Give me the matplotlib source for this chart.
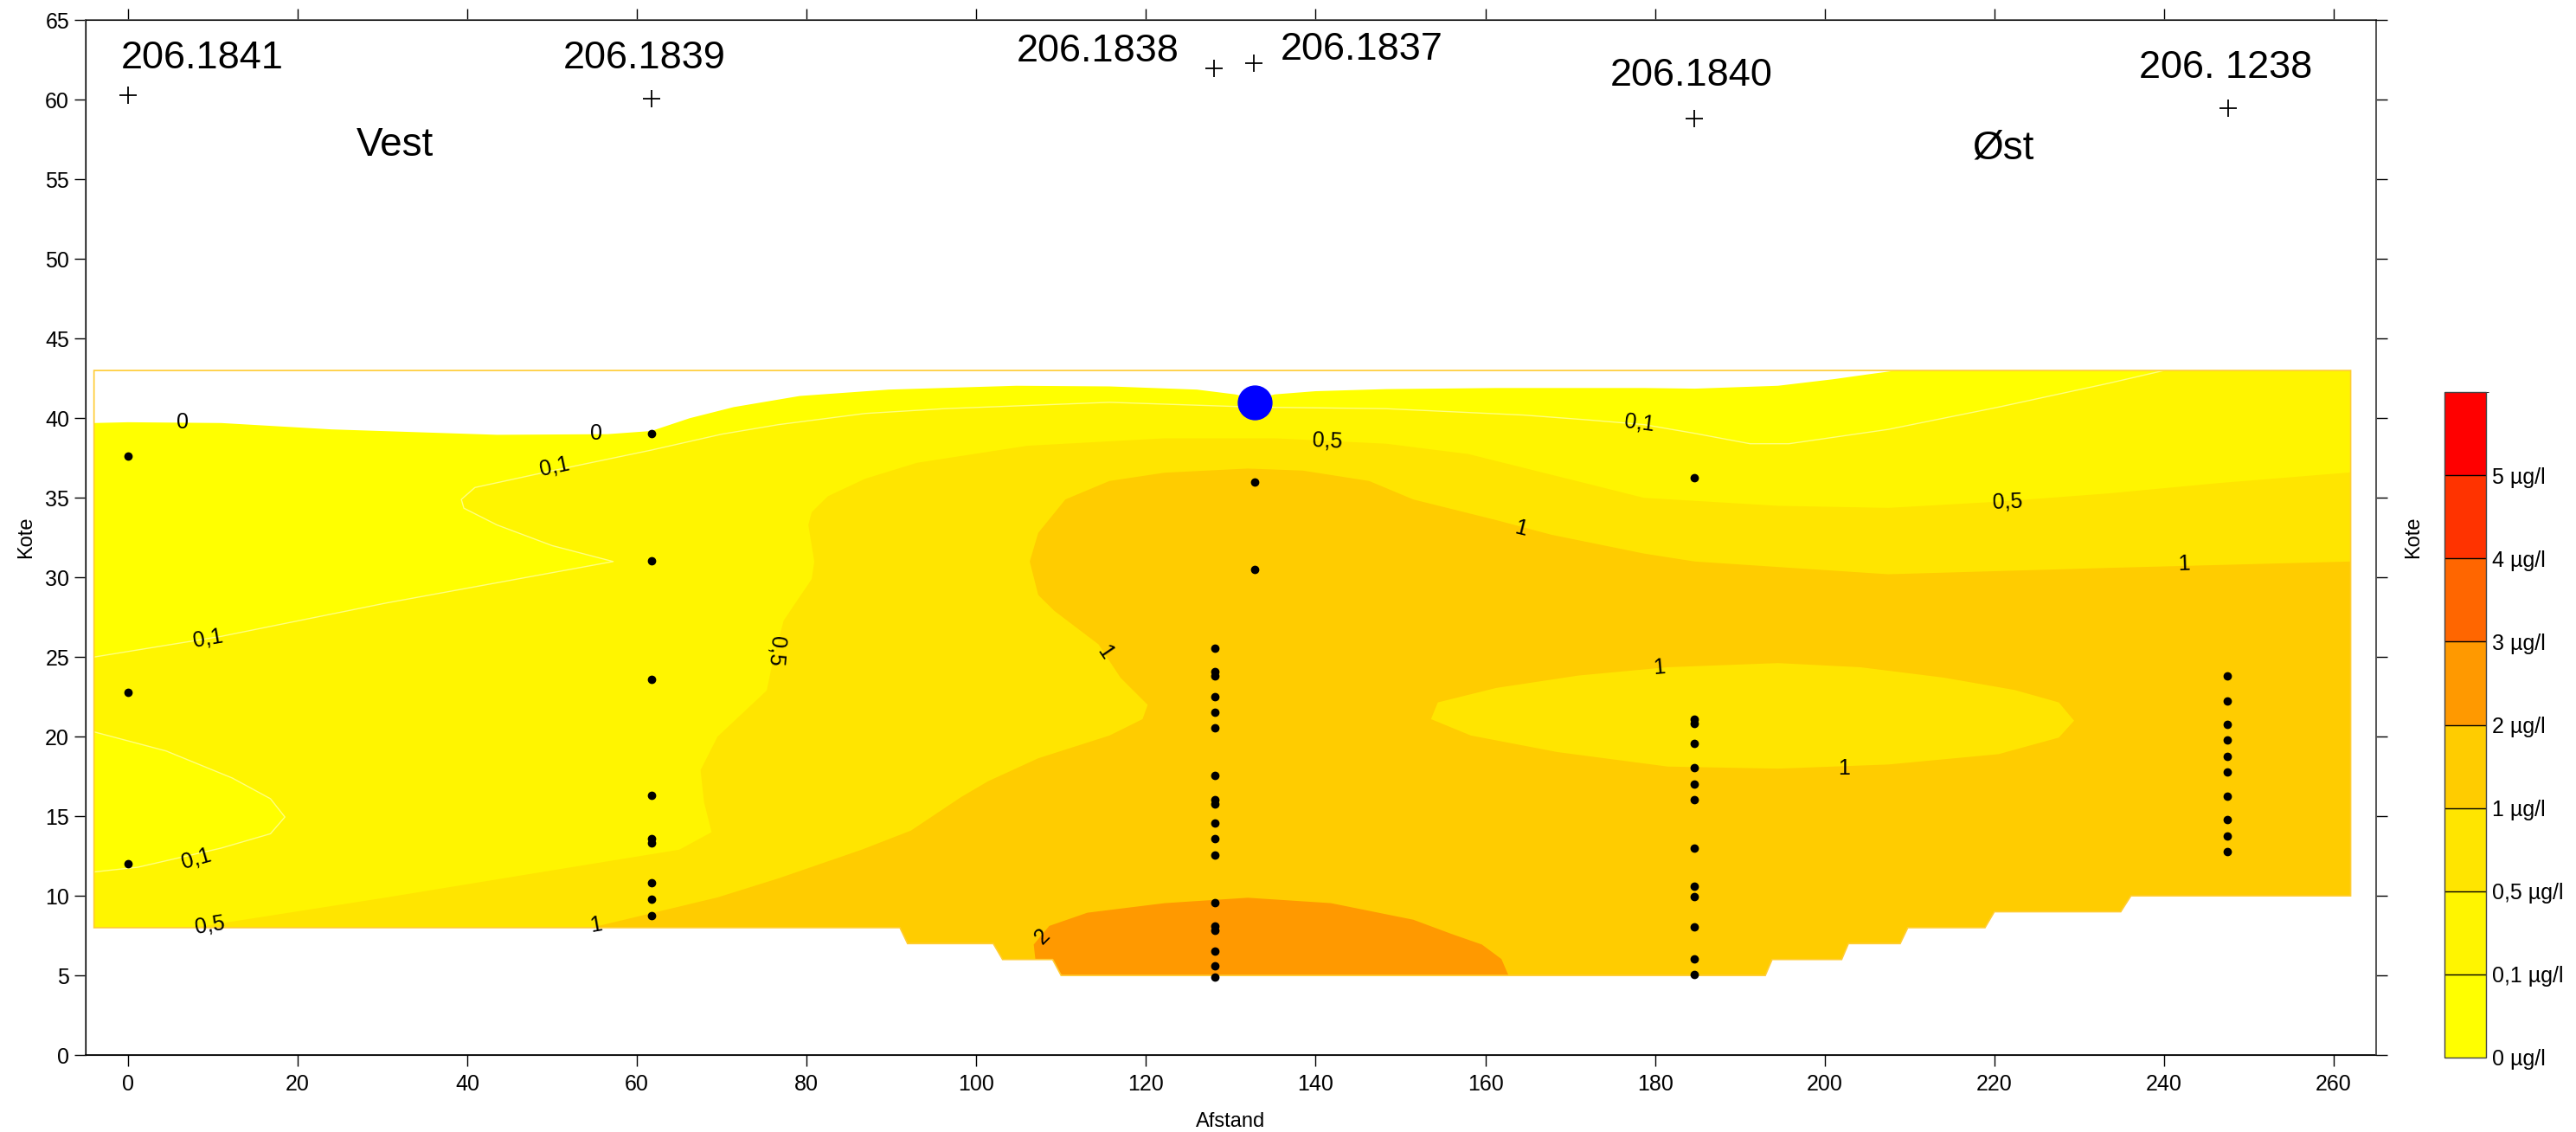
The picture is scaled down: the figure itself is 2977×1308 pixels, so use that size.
import matplotlib
matplotlib.use('Agg')
import matplotlib.pyplot as plt
import numpy as np
from matplotlib.patches import Polygon
from matplotlib.colors import ListedColormap, BoundaryNorm
from matplotlib.colorbar import ColorbarBase

plt.rcParams['font.family'] = ['Liberation Sans', 'DejaVu Sans']

# concentration classes and colours
levels = [0, 0.1, 0.5, 1, 2, 3, 4, 5, 6]
level_labels = ['0 µg/l', '0,1 µg/l', '0,5 µg/l', '1 µg/l', '2 µg/l', '3 µg/l', '4 µg/l', '5 µg/l']
band_colors = ['#FFFF00', '#FFF500', '#FFE500', '#FFCC00', '#FF9900', '#FF6600', '#FF3300', '#FF0000']

# section outline (stepped bottom)
domain_x = [-4, -4, 91.0, 91.9, 102.0, 103.1, 109.0, 110.0, 193.0, 193.8, 202.0, 202.8,
            208.9, 209.8, 218.9, 220.0, 234.9, 236.1, 262, 262]
domain_y = [43, 8, 8, 7, 7, 6, 6, 5, 5, 6, 6, 7, 7, 8, 8, 9, 9, 10, 10, 43]

# contour 0 (upper limit of the coloured area)
c0_x = [-4, 0, 11, 24, 43.5, 56.5, 61.7, 66.2, 71.4, 79.2, 89.7, 104.7, 115.7, 126, 130.5,
        132.8, 135.2, 140, 148.3, 161.3, 178.7, 184.7, 194.5, 201, 205, 208.5]
c0_y = [39.7, 39.75, 39.7, 39.3, 38.96, 39.0, 39.2, 40.0, 40.7, 41.4, 41.8, 42.04, 42.0, 41.8, 41.5,
        41.2, 41.5, 41.7, 41.83, 41.9, 41.9, 41.86, 42.04, 42.45, 42.75, 43.0]

# contour 0,1 (upper)
c01_x = [-4, 11, 30.5, 57.2, 50, 43.5, 39.6, 39.3, 40.9, 50, 61.7, 70, 76.7, 86.9, 96.2, 115.7,
         132.8, 148.3, 164.5, 172, 178.7, 184.7, 191.2, 195.8, 207.5, 220.5, 233.5, 240]
c01_y = [25.0, 26.3, 28.4, 31.0, 32.0, 33.3, 34.35, 34.9, 35.65, 36.7, 38.0, 39.0, 39.6, 40.3, 40.6, 41.0,
         40.7, 40.6, 40.2, 39.9, 39.6, 39.05, 38.4, 38.4, 39.3, 40.7, 42.2, 43.0]

# contour 0,1 (lower left lobe)
lobe_x = [-4, 4.5, 12.3, 16.8, 18.5, 16.8, 11.0, 1.2, -4]
lobe_y = [20.3, 19.1, 17.4, 16.1, 14.95, 13.9, 13.0, 11.8, 11.5]

# contour 0,5
c05_x = [7.7, 30.5, 50, 65, 68.8, 67.9, 67.5, 69.5, 75.3, 76.0, 77.3, 80.6, 80.9, 80.2, 80.6, 82.5,
         86.9, 93, 106, 122.2, 135.2, 148.3, 158, 167.8, 178.7, 194.5, 207.5, 220.5, 233.5, 246.5, 262]
c05_y = [8.0, 9.9, 11.6, 12.9, 14.0, 15.9, 17.9, 20.0, 22.9, 24.7, 27.3, 29.9, 31.0, 33.3, 34.1, 35.1,
         36.2, 37.2, 38.27, 38.74, 38.74, 38.4, 37.75, 36.45, 35.0, 34.5, 34.37, 34.76, 35.28, 35.93, 36.6]

# contour 1
c1_x = [54.6, 69.5, 76.7, 86.5, 92.3, 98.2, 101.4, 107.3, 115.7, 119.6, 120.2, 117, 114.4, 109.2,
        107.3, 106.3, 107.3, 110.5, 115.7, 122.2, 132, 138.5, 146.3, 151.5, 161.3, 167.8, 178.7,
        184.7, 207.5, 233.5, 262]
c1_y = [8.0, 9.9, 11.1, 12.9, 14.1, 16.2, 17.2, 18.64, 20.07, 21.1, 22.0, 23.7, 25.8, 27.9,
        28.9, 31.0, 32.8, 34.9, 36.06, 36.58, 36.84, 36.71, 36.06, 34.9, 33.6, 32.68, 31.5,
        31.0, 30.2, 30.6, 31.0]

# contour 1 (inner lens, below 1)
lens_x = [153.6, 154.4, 161.3, 171.0, 181.5, 194.5, 204.2, 214.0, 222.4, 227.6, 229.4, 227.6,
          220.5, 207.5, 194.5, 181.5, 168.5, 158.3]
lens_y = [21.1, 22.15, 23.06, 23.84, 24.36, 24.62, 24.36, 23.71, 22.93, 22.15, 21.0, 19.94,
          18.9, 18.25, 17.99, 18.12, 19.03, 20.07]

# contour 2
c2_x = [106.96, 106.77, 108.6, 113.1, 122.2, 132.0, 141.8, 151.5, 156.1, 159.6, 161.9, 162.7]
c2_y = [6.03, 6.94, 8.11, 8.94, 9.54, 9.88, 9.54, 8.50, 7.59, 6.94, 6.03, 5.04]

# contour labels
lab_text = ['0', '0', '0,1', '0,1', '0,1', '0,5', '1', '0,5', '1', '0,5', '1', '0,1', '0,5',
            '1', '1', '1', '2']
lab_x = [6.4, 55.2, 50.3, 9.4, 8.1, 9.7, 55.2, 76.4, 115.1, 141.4, 164.2, 178.2, 221.5,
         242.3, 180.5, 202.3, 107.8]
lab_y = [39.74, 39.04, 36.95, 26.15, 12.34, 8.18, 8.18, 25.4, 25.3, 38.6, 33.07, 39.7, 34.76,
         30.86, 24.36, 17.99, 7.46]
lab_rot = [0, 0, 12, 10, 16, 9, 10, -95, -56, -3, -14, -7, 2, 2, 5, 0, 45]

# sample points per borehole
bh_x = [0, 61.7, 128.1, 132.8, 184.6, 247.5]
bh_levels = [
    [37.6, 22.8, 12.0],
    [39.06, 31.04, 23.57, 16.33, 13.57, 13.3, 10.8, 9.8, 8.78],
    [25.55, 24.1, 23.8, 22.5, 21.55, 20.56, 17.55, 16.04, 15.78, 14.56, 13.57, 12.56,
     9.59, 8.11, 7.85, 6.55, 5.59, 4.91],
    [36.0, 30.5],
    [36.27, 21.1, 20.85, 19.55, 18.04, 17.03, 16.04, 13.02, 10.58, 9.93, 8.06, 6.03, 5.04],
    [23.79, 22.25, 20.77, 19.78, 18.77, 17.78, 16.27, 14.79, 13.78, 12.79],
]
source_x, source_y = 132.8, 41.0

# well names at the top
wells = ['206.1841', '206.1839', '206.1838', '206.1837', '206.1840', '206. 1238']
well_x = [0, 61.7, 128.0, 132.7, 184.6, 247.6]
well_y = [60.3, 60.1, 62.0, 62.3, 58.8, 59.5]
well_lab_x = [-0.85, 51.3, 104.7, 135.8, 174.7, 237.1]
well_lab_y = [62.0, 62.0, 62.4, 62.5, 60.9, 61.4]

fig = plt.figure(figsize=(29.77, 13.08), dpi=100)
ax = fig.add_axes([0.0332, 0.0680, 0.8892, 0.9141])

dom = Polygon(np.column_stack([domain_x, domain_y]), closed=True, facecolor='none',
              edgecolor='#FFCC33', lw=1.2, zorder=2.5)
ax.add_patch(dom)


def band(x, y, closing, color, z):
    pts = np.vstack([np.column_stack([x, y]), np.array(closing)])
    p = Polygon(pts, closed=True, facecolor=color, edgecolor='none', zorder=z)
    ax.add_patch(p)
    p.set_clip_path(dom)
    return p


band(c0_x, c0_y, [(270, 43), (270, -1), (-10, -1), (-10, c0_y[0])], band_colors[0], 1.0)
band(c01_x, c01_y, [(270, 43), (270, -1), (-10, -1), (-10, c01_y[0])], band_colors[1], 1.1)
band(lobe_x, lobe_y, [(-10, lobe_y[-1]), (-10, lobe_y[0])], band_colors[0], 1.2)
band(c05_x, c05_y, [(270, c05_y[-1]), (270, -1), (c05_x[0], -1)], band_colors[2], 1.3)
band(c1_x, c1_y, [(270, c1_y[-1]), (270, -1), (c1_x[0], -1)], band_colors[3], 1.4)
band(lens_x, lens_y, [(lens_x[0], lens_y[0])], band_colors[2], 1.5)
band(c2_x, c2_y, [(c2_x[-1], -1), (c2_x[0], -1)], band_colors[4], 1.6)

# faint contour lines for the 0,1 level
for lx, ly in [(c01_x, c01_y), (lobe_x, lobe_y)]:
    ln, = ax.plot(lx, ly, color='#FFFF80', lw=1.0, zorder=2)
    ln.set_clip_path(dom)

for t, x, y, r in zip(lab_text, lab_x, lab_y, lab_rot):
    ax.text(x, y, t, fontsize=18, rotation=r, ha='center', va='center',
            rotation_mode='anchor', zorder=3)

for x, lv in zip(bh_x, bh_levels):
    ax.plot([x] * len(lv), lv, 'o', color='black', ms=6, mec='black', zorder=4)
ax.plot(source_x, source_y, 'o', color='#0000FF', ms=28, mec='#0000FF', zorder=5)

ax.plot(well_x, well_y, '+', color='black', ms=15, mew=1.3, ls='none')
for t, x, y in zip(wells, well_lab_x, well_lab_y):
    ax.text(x, y, t, fontsize=32.5, ha='left', va='baseline')
ax.text(26.9, 56.5, 'Vest', fontsize=33, ha='left', va='baseline')
ax.text(217.4, 56.3, 'Øst', fontsize=33, ha='left', va='baseline')

ax.set_xlim(-5, 265)
ax.set_ylim(0, 65)
ax.set_xticks(range(0, 261, 20))
ax.set_yticks(range(0, 66, 5))
ax.tick_params(direction='out', length=9.5, width=1.0, labelsize=18, top=True,
               labeltop=False, pad=4)
ax.tick_params(axis='x', pad=6)
for s in ax.spines.values():
    s.set_color('#555555')
    s.set_linewidth(1.2)
ax.spines['bottom'].set_color('black')
ax.set_xlabel('Afstand', fontsize=17, labelpad=15)
ax.set_ylabel('Kote', fontsize=17, labelpad=8)

ax2 = ax.twinx()
ax2.set_ylim(0, 65)
ax2.set_yticks(range(0, 66, 5))
ax2.set_yticklabels([])
ax2.tick_params(direction='out', length=9.5, width=1.0)
ax2.spines['right'].set_color('#555555')
ax2.spines['right'].set_linewidth(1.2)
ax2.set_ylabel('Kote', fontsize=17, rotation=90, labelpad=10.5)

cax = fig.add_axes([2824.5 / 2977, 1 - 1222 / 1308, 48.5 / 2977, 769 / 1308])
cmap = ListedColormap(band_colors)
norm = BoundaryNorm(levels, cmap.N)
cb = ColorbarBase(cax, cmap=cmap, norm=norm, boundaries=levels, spacing='uniform',
                  ticks=levels[:-1], drawedges=True)
cb.set_ticklabels(level_labels)
cb.outline.set_edgecolor('#444444')
cb.outline.set_linewidth(1.0)
cb.dividers.set_color('black')
cb.dividers.set_linewidth(1.0)
cax.tick_params(length=0, labelsize=18, pad=5)

fig.savefig('out.png', dpi=100)
